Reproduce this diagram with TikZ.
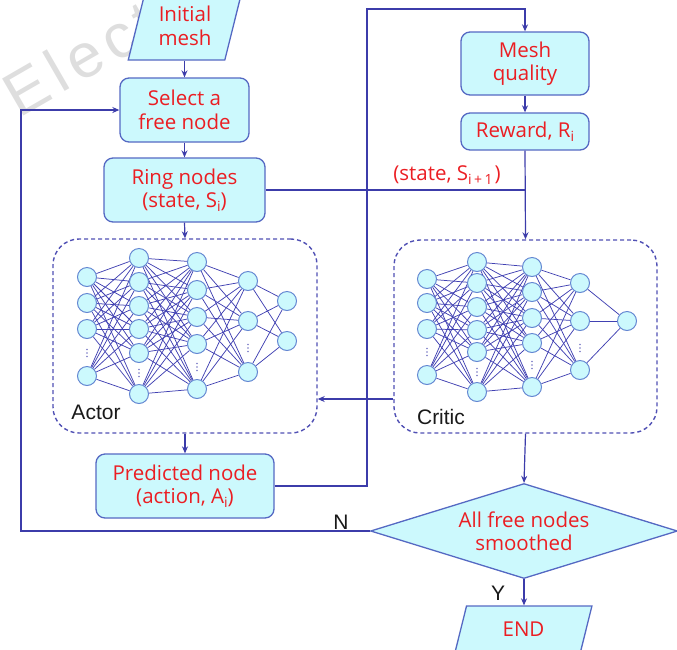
\documentclass[tikz,border=0pt]{standalone}
\usepackage{fontspec}
\setmainfont{Open Sans}
\newfontfamily\arialf{Liberation Sans}
\newfontfamily\wmfont[LetterSpace=11]{Liberation Sans}
\usetikzlibrary{shapes.geometric,arrows.meta,backgrounds,calc}
\definecolor{boxfill}{RGB}{204,249,253}
\definecolor{boxline}{RGB}{85,105,195}
\definecolor{lineblue}{RGB}{60,60,170}
\definecolor{dashblue}{RGB}{80,80,180}
\definecolor{txtred}{RGB}{235,30,35}
\definecolor{neuronline}{RGB}{100,135,210}
\definecolor{edgeblue}{RGB}{65,65,178}
\definecolor{wmark}{RGB}{222,222,222}
\definecolor{lbl}{RGB}{25,25,25}
\newcommand\lowidx[1]{\raisebox{-4pt}{\fontsize{14}{14}\selectfont #1}}
\newcommand\nnlayer[4]{\foreach \yy [count=\kk] in {#4} {\node[neuron] (#1#2-\kk) at (#3,\yy) {};}}
\newcommand\nnlink[5]{\foreach \ii in {1,...,#3} {\foreach \jj in {1,...,#5} {\draw[edge] (#1#2-\ii) -- (#1#4-\jj);}}}
\begin{document}
\begin{tikzpicture}[x=1pt,y=-1pt,
  redfont/.style={font=\fontsize{20.5}{23.5}\selectfont, text=txtred},
  box/.style={redfont, draw=boxline, fill=boxfill, line width=1.3pt, rounded corners=9pt, align=center, inner sep=0pt},
  iobox/.style={redfont, shape=trapezium, trapezium left angle=74, trapezium right angle=106, trapezium stretches=true, draw=boxline, fill=boxfill, line width=1.3pt, align=center, inner sep=0pt},
  decbox/.style={redfont, shape=diamond, aspect=3.3, draw=boxline, fill=boxfill, line width=1.3pt, align=center, inner sep=0pt},
  nnbox/.style={draw=dashblue, dash pattern=on 4pt off 3pt, line width=1.4pt, rounded corners=26pt, inner sep=0pt},
  neuron/.style={circle, draw=neuronline, fill=boxfill, line width=1pt, minimum size=19pt, inner sep=0pt},
  edge/.style={draw=edgeblue, line width=0.75pt},
  arr/.style={draw=lineblue, line width=1.2pt, -{Stealth[length=7pt,width=6pt]}},
  ln/.style={draw=lineblue, line width=1.2pt},
  blk/.style={font=\arialf\fontsize{21}{21}\selectfont, text=lbl, inner sep=0pt}
]
\useasboundingbox (0,0) rectangle (677,649);
\clip (0,0) rectangle (677,649);

% watermark
\node[font=\wmfont\fontsize{62}{62}\selectfont, text=wmark, rotate=30, anchor=base west, inner sep=0pt] (wm) at (-13,137) {l Elect};

% flowchart nodes
\node[iobox, minimum width=114pt, minimum height=68pt] (init) at (185,26) {Initial\\mesh};
\node[box, minimum width=129pt, minimum height=64pt] (select) at (184.5,110) {Select a\\free node};
\node[box, minimum width=161pt, minimum height=64pt] (ring) at (184.5,190) {Ring nodes\\(state, S\lowidx{i})};
\node[nnbox, minimum width=264pt, minimum height=194pt] (actor) at (185,336) {};
\node[box, minimum width=178pt, minimum height=64pt] (pred) at (185,486) {Predicted node\\(action, A\lowidx{i})};
\node[box, minimum width=128pt, minimum height=63pt] (mesh) at (525,63.5) {Mesh\\quality};
\node[box, minimum width=128pt, minimum height=37pt] (reward) at (525,131.5) {Reward, R\lowidx{i}};
\node[nnbox, minimum width=263pt, minimum height=193pt] (critic) at (525.5,336.5) {};
\node[decbox, minimum width=307pt, minimum height=95pt] (dec) at (524,531) {All free nodes\\smoothed};
\node[iobox, minimum width=137pt, minimum height=46pt] (end) at (523.5,629) {END};

% labels
\node[redfont, inner sep=0pt] (st) at (447,175) {(state, S\lowidx{i\hspace{2.5pt}+\hspace{2.5pt}1}\hspace{2pt})};
\node[blk] (actlbl) at (96,412) {Actor};
\node[blk] (crilbl) at (441,417) {Critic};
\node[blk] (nlbl) at (341,522) {N};
\node[blk] (ylbl) at (498,593) {Y};

% actor network
\nnlayer{A}{1}{87}{277,303,329,376}
\nnlayer{A}{2}{139}{258,282,306,329,353,394}
\nnlayer{A}{3}{197}{262,290,317,344,389}
\nnlayer{A}{4}{248}{281,321,372}
\nnlayer{A}{5}{287}{301,341}
% critic network
\nnlayer{C}{1}{427}{279,303,329,375}
\nnlayer{C}{2}{477}{262,283,307,330,352,392}
\nnlayer{C}{3}{532}{267,292,318,343,387}
\nnlayer{C}{4}{580}{283,321,370}
\nnlayer{C}{5}{627}{321}

\begin{pgfonlayer}{background}
\nnlink{A}{1}{4}{2}{6}
\nnlink{A}{2}{6}{3}{5}
\nnlink{A}{3}{5}{4}{3}
\nnlink{A}{4}{3}{5}{2}
\nnlink{C}{1}{4}{2}{6}
\nnlink{C}{2}{6}{3}{5}
\nnlink{C}{3}{5}{4}{3}
\nnlink{C}{4}{3}{5}{1}
\end{pgfonlayer}

% vertical dots in the networks
\foreach \px/\py in {87/353,139/373,197/367,248/348,427/352,477/372,532/365,580/348}
  {\foreach \d in {-3.5,0,3.5} {\fill[lineblue!70] ({\px},{\py+\d}) circle (0.9pt);}}

% connectors
\coordinate (top) at (367,9);
\coordinate (lft) at (21,0);
\coordinate (cy) at (0,399);
\draw[arr] (select.north |- init.south) -- (select.north);
\draw[arr] (select.south) -- (ring.north);
\draw[arr] (ring.south) -- (actor.north);
\draw[arr] (actor.south) -- (pred.north);
\draw[arr] (pred.east) -- (pred.east -| top) -- (top) -- (top -| mesh.north) -- (mesh.north);
\draw[arr] (mesh.south) -- (reward.north);
\draw[arr] (reward.south) -- (critic.north);
\draw[ln] (ring.east) -- (ring.east -| reward.south);
\draw[arr] (critic.west |- cy) -- (actor.east |- cy);
\draw[arr] (critic.south) -- (dec.north);
\draw[arr] (dec.west) -- (dec.west -| lft) -- (select.west -| lft) -- (select.west);
\draw[arr] (dec.south) -- (dec.south |- end.north);
\end{tikzpicture}
\end{document}
